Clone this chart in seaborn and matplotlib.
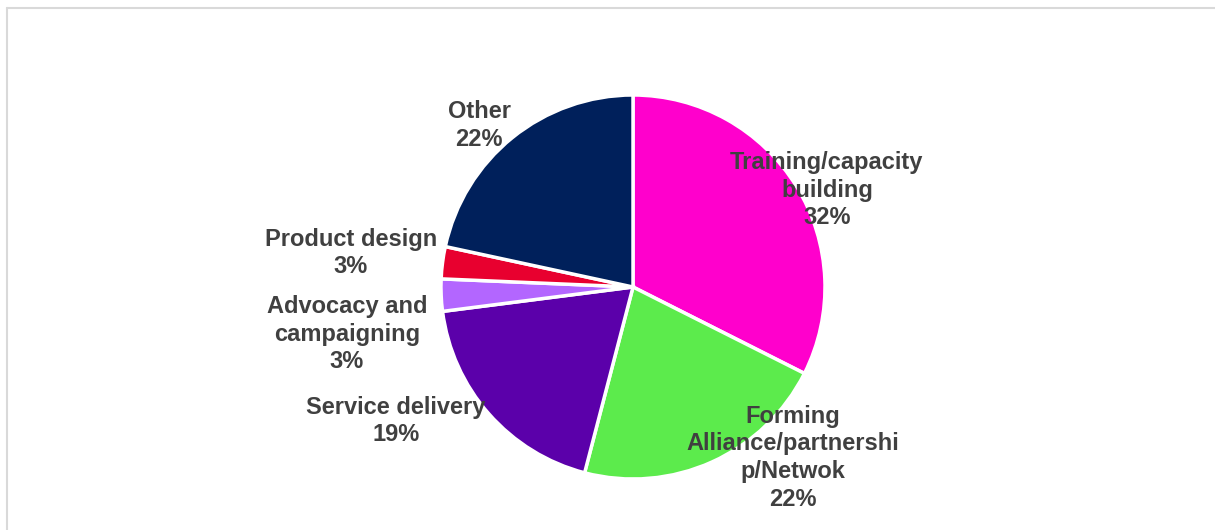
import matplotlib
matplotlib.use("Agg")
import matplotlib.pyplot as plt
from matplotlib.lines import Line2D
import seaborn as sns

# counts per activity type (shares: 32/22/19/3/3/22 %)
activities = ["Training/capacity\nbuilding", "Forming\nAlliance/partnershi\np/Netwok",
              "Service delivery", "Advocacy and\ncampaigning", "Product design", "Other"]
counts = [12, 8, 7, 1, 1, 8]
colors = ["#FF00CC", "#5CEB4C", "#5B00AA", "#B366FF", "#E8002F", "#00205B"]

# where the data labels sit (pie radius = 1)
label_pos = [(1.01, 0.505), (0.833, -0.89), (-1.234, -0.698),
             (-1.49, -0.245), (-1.469, 0.177), (-0.802, 0.839)]

sns.set_theme(style="white")
plt.rcParams['font.family'] = ['Liberation Sans', 'DejaVu Sans']

fig = plt.figure(figsize=(12.15, 5.30), dpi=100)
ax = fig.add_axes([0, 0, 1, 1])

palette = sns.color_palette(colors)
wedges, _ = ax.pie(counts, colors=palette, startangle=90, counterclock=False,
                   radius=1.0, wedgeprops=dict(edgecolor="white", linewidth=2.5))

total = sum(counts)
for name, c, (x, y) in zip(activities, counts, label_pos):
    ax.text(x, y, f"{name}\n{round(100 * c / total)}%", ha="center", va="center",
            fontsize=17, fontweight="bold", color="#404040", linespacing=1.27)

# 1 data unit = 192 px, pie centre at (633, 287) px
ax.set_xlim(-633 / 192, (1215 - 633) / 192)
ax.set_ylim((287 - 530) / 192, 287 / 192)
ax.set_aspect("auto")
ax.axis("off")

# light grey chart frame (top and left edges visible)
fig.add_artist(Line2D([7 / 1215, 7 / 1215], [0, 1 - 8 / 530], color="#d9d9d9", lw=1.5,
                      transform=fig.transFigure))
fig.add_artist(Line2D([7 / 1215, 1.01], [1 - 8 / 530, 1 - 8 / 530], color="#d9d9d9", lw=1.5,
                      transform=fig.transFigure))

fig.savefig("out.png", dpi=100, facecolor="white")
